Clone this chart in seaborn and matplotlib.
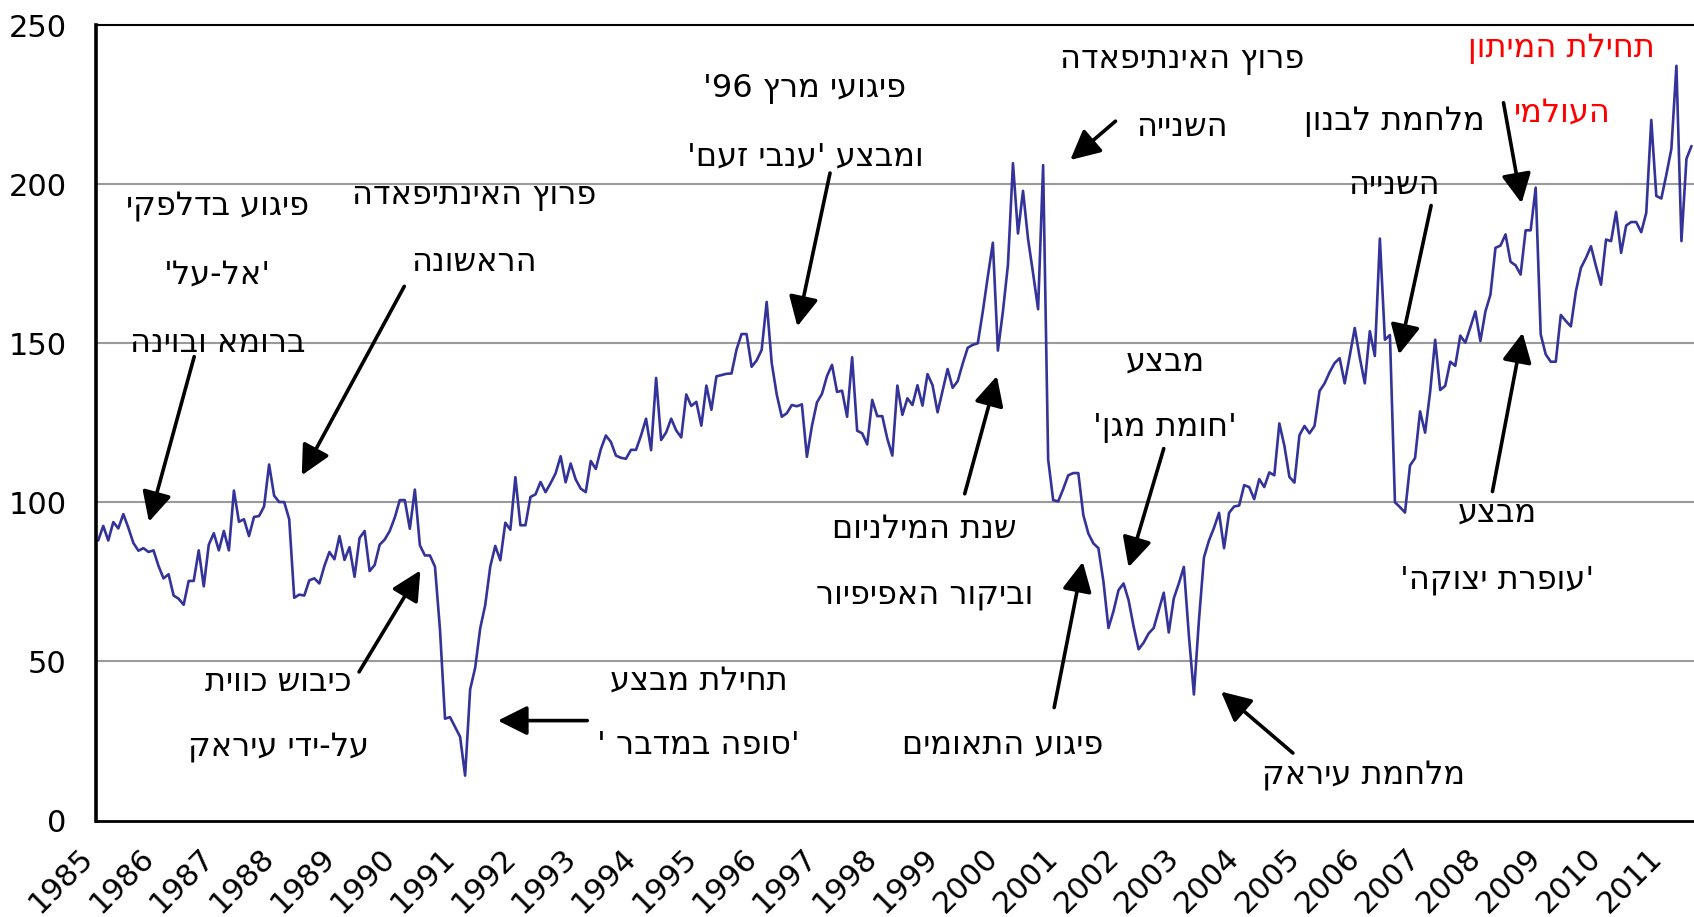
import re
import numpy as np
import pandas as pd
import matplotlib
matplotlib.use("Agg")
import matplotlib.pyplot as plt
import seaborn as sns
from matplotlib.transforms import ScaledTranslation

# ---------------- data (monthly index, Jan 1985 = 0) ----------------
v_1985_1987 = [88.0, 92.6, 88.0, 93.8, 91.8, 96.3, 92.0, 87.2, 84.8, 85.6, 84.4, 84.9,
               80.0, 76.1, 77.4, 70.7, 69.7, 67.8, 75.3, 75.3, 84.9, 73.6, 86.7, 90.3,
               84.9, 91.0, 84.9, 103.7, 93.9, 94.7, 89.4, 95.4, 95.7, 98.7, 111.9, 102.1]
v_1988_1990 = [100.1, 100.1, 94.7, 70.0, 71.0, 70.7, 75.5, 76.1, 74.5, 80.0, 84.4, 82.1,
               89.4, 81.9, 85.9, 76.6, 88.8, 91.0, 78.4, 80.3, 86.7, 88.3, 91.0, 95.2,
               100.7, 100.7, 91.7, 104.0, 86.5, 83.3, 83.3, 79.8, 60.0, 32.0, 32.5, 29.4]
v_1991_1993 = [26.3, 14.1, 41.2, 48.0, 60.4, 67.7, 79.8, 86.3, 81.8, 93.6, 91.4, 107.9,
               92.8, 92.8, 101.7, 102.5, 106.4, 103.2, 106.0, 109.1, 114.5, 106.3, 112.2, 107.2,
               104.3, 103.2, 113.0, 110.5, 116.7, 121.0, 119.0, 114.7, 114.0, 113.7, 116.5, 116.5]
v_1994_1996 = [121.0, 126.3, 116.4, 139.1, 119.6, 122.0, 126.3, 122.6, 120.4, 133.9, 130.3, 131.6,
               124.1, 136.7, 129.1, 139.6, 140.0, 140.4, 140.5, 148.0, 152.9, 152.9, 142.6, 144.6,
               147.9, 163.0, 143.8, 133.9, 126.9, 128.0, 130.6, 130.2, 130.8, 114.3, 124.0, 131.4]
v_1997_1999 = [134.1, 139.7, 143.2, 134.7, 135.1, 126.9, 145.6, 122.5, 121.7, 118.2, 132.2, 127.1,
               127.1, 120.0, 114.7, 136.7, 127.5, 132.7, 130.6, 136.8, 130.4, 140.3, 136.8, 128.3,
               135.1, 141.9, 136.0, 138.1, 143.6, 148.6, 149.5, 150.0, 160.0, 171.0, 181.6, 147.7]
v_2000_2002 = [160.0, 174.6, 206.6, 184.5, 197.9, 182.8, 172.0, 160.7, 206.0, 113.5, 100.7, 100.3,
               104.2, 108.5, 109.2, 109.2, 96.0, 90.2, 87.1, 85.6, 75.1, 60.5, 65.8, 72.4,
               74.5, 69.3, 61.0, 53.8, 55.9, 58.8, 60.5, 66.0, 71.6, 59.1, 69.8, 74.5]
v_2003_2005 = [79.7, 58.2, 39.6, 62.9, 82.7, 88.0, 92.0, 96.7, 85.6, 96.7, 98.7, 99.0,
               105.4, 104.8, 101.0, 107.3, 104.8, 109.4, 108.5, 124.8, 117.8, 108.0, 106.2, 121.1,
               124.0, 121.7, 124.0, 135.0, 137.4, 140.9, 143.8, 145.3, 137.4, 146.0, 154.8, 145.5]
v_2006_2008 = [137.4, 153.8, 146.0, 182.9, 151.1, 152.6, 100.0, 98.5, 96.8, 111.6, 113.9, 128.6,
               121.9, 134.7, 151.1, 135.3, 136.6, 144.2, 142.9, 152.4, 150.2, 155.0, 160.0, 150.7,
               160.0, 165.3, 180.0, 180.7, 184.2, 175.6, 174.5, 171.6, 185.5, 185.5, 198.9, 152.8]
v_2009_2011 = [146.5, 144.2, 144.2, 158.9, 157.0, 155.3, 166.3, 173.7, 176.8, 180.5, 174.2, 168.4,
               182.6, 182.1, 191.3, 178.4, 187.0, 188.1, 188.1, 184.9, 191.0, 220.2, 196.3, 195.5,
               203.0, 211.1, 237.2, 182.1, 208.0, 212.0]

values = np.concatenate([v_1985_1987, v_1988_1990, v_1991_1993, v_1994_1996,
                         v_1997_1999, v_2000_2002, v_2003_2005, v_2006_2008, v_2009_2011])
years = list(range(1985, 2012))
y_ticks = [0, 50, 100, 150, 200, 250]

df = pd.DataFrame({"month": np.arange(len(values)), "value": values})

# annotation texts (logical Hebrew order)
labels = [
    (["פיגוע בדלפקי", "'אל-על'", "ברומא ובוינה"], 23.8, [192.7, 171.6, 149.9], "black"),
    (["פרוץ האינתיפאדה", "הראשונה"], 74.7, [196.4, 175.4], "black"),
    (["כיבוש כווית", "על-ידי עיראק"], 35.9, [43.3, 22.9], "black"),
    (["תחילת מבצע", "'סופה במדבר '"], 119.5, [43.9, 23.6], "black"),
    (["פיגועי מרץ 96'", "ומבצע 'ענבי זעם'"], 140.6, [230.0, 208.6], "black"),
    (["פרוץ האינתיפאדה", "השנייה"], 215.6, [239.2, 217.8], "black"),
    (["שנת המילניום", "וביקור האפיפיור"], 164.4, [91.5, 70.8], "black"),
    (["מבצע", "'חומת מגן'"], 212.3, [144.1, 123.4], "black"),
    (["פיגוע התאומים"], 179.9, [23.6], "black"),
    (["מלחמת עיראק"], 251.7, [14.1], "black"),
    (["מלחמת לבנון", "השנייה"], 257.8, [219.8, 199.5], "black"),
    (["מבצע", "'עופרת יצוקה'"], 278.4, [96.6, 75.5], "black"),
    (["תחילת המיתון", "העולמי"], 291.2, [242.6, 222.5], "#FF0000"),
]
arrows = [
    ((19.1, 145.8), (10.1, 93.9)),
    ((60.9, 167.9), (40.5, 108.5)),
    ((51.9, 46.7), (64.1, 78.6)),
    ((97.3, 31.4), (79.5, 31.4)),
    ((145.6, 203.5), (139.1, 155.3)),
    ((202.4, 219.8), (193.4, 207.6)),
    ((172.4, 102.7), (178.8, 139.7)),
    ((212.0, 116.9), (205.0, 79.6)),
    ((190.2, 35.5), (195.9, 81.3)),
    ((237.7, 21.2), (223.4, 40.5)),
    ((265.2, 193.3), (258.8, 146.5)),
    ((277.4, 103.4), (283.4, 153.3)),
    ((279.6, 225.6), (283.2, 194.0)),
]


def vis(s):
    """Logical Hebrew -> visual (LTR) order, keeping digit runs intact."""
    r = s[::-1]
    return re.sub(r"\d+", lambda mt: mt.group(0)[::-1], r)


# ---------------- plot ----------------
sns.set_style("white")
plt.rcParams["font.family"] = ["DejaVu Sans"]

W, H = 1694, 917
fig = plt.figure(figsize=(W / 100, H / 100), dpi=100)
ax = fig.add_axes([95.7 / W, 96.5 / H, 1 - 95.7 / W, (891.9 - 96.5) / H])

ax.set_axisbelow(True)
for yv in y_ticks[1:-1]:
    ax.axhline(yv, color="#9a9a9a", lw=1.5, zorder=0)

sns.lineplot(data=df, x="month", y="value", color="#333399", lw=1.9, ax=ax,
             errorbar=None, legend=False)

ax.set_xlim(-0.5, 316.6)
ax.set_ylim(0, 250)
ax.set_xlabel("")
ax.set_ylabel("")

ax.set_yticks(y_ticks)
ax.set_yticklabels([str(t) for t in y_ticks], fontsize=22)
ax.tick_params(axis="y", direction="out", length=10, width=1.6, pad=11, colors="black")

major = [-0.5 + 12 * i for i in range(len(years))]
minor = [-0.5 + 6 + 12 * i for i in range(len(years))]
ax.set_xticks(major)
ax.set_xticks(minor, minor=True)
ax.set_xticklabels([str(y) for y in years], fontsize=22, rotation=45,
                   ha="right", va="top", rotation_mode="anchor")
ax.tick_params(axis="x", which="both", direction="out", length=6, width=1.6,
               pad=10, colors="black")
offset = ScaledTranslation(-0.17, 0.0, fig.dpi_scale_trans)
for lbl in ax.get_xticklabels():
    lbl.set_transform(lbl.get_transform() + offset)

for side in ["left", "bottom", "top"]:
    ax.spines[side].set_visible(True)
    ax.spines[side].set_color("black")
ax.spines["left"].set_linewidth(2.6)
ax.spines["bottom"].set_linewidth(2.0)
ax.spines["top"].set_linewidth(1.5)
ax.spines["right"].set_visible(False)

for lines, xm, ys, col in labels:
    for txt, yv in zip(lines, ys):
        ax.text(xm, yv, vis(txt), ha="center", va="center", fontsize=23,
                color=col, zorder=5)

for tail, head in arrows:
    ax.annotate("", xy=head, xytext=tail,
                arrowprops=dict(arrowstyle="-|>,head_length=0.9,head_width=0.45",
                                mutation_scale=20, lw=2.6, color="black",
                                shrinkA=0, shrinkB=0), zorder=6)

fig.savefig("out.png", dpi=100)
